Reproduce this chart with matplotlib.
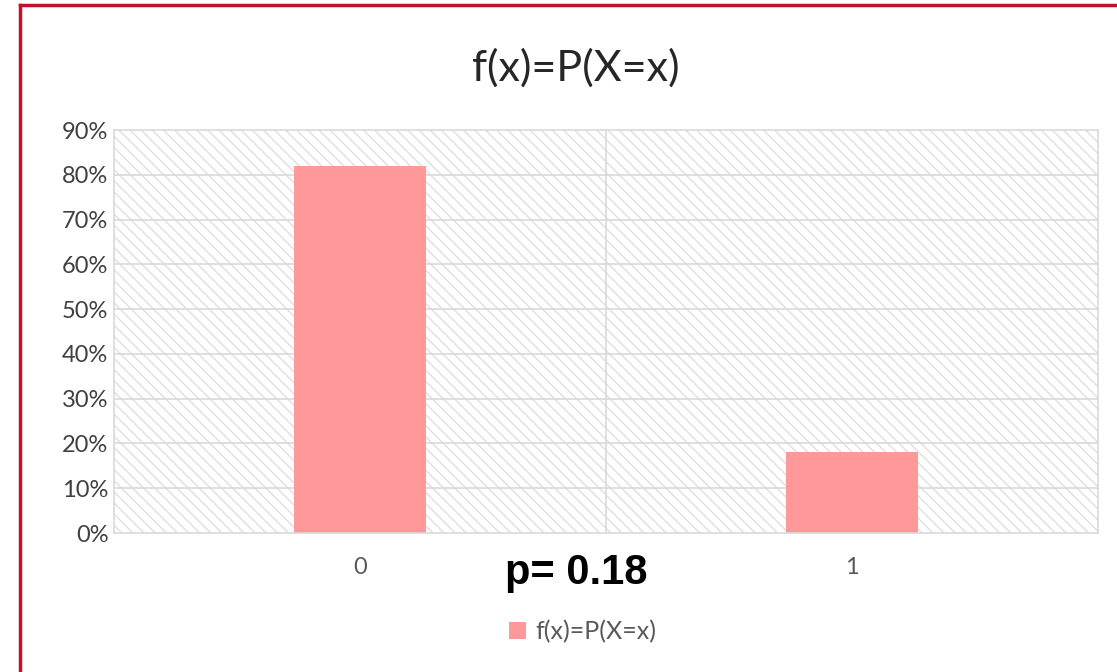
import numpy as np
import matplotlib
matplotlib.use("Agg")
import matplotlib.pyplot as plt
from matplotlib.patches import Rectangle
from matplotlib.lines import Line2D
from matplotlib.ticker import PercentFormatter

# Bernoulli distribution with p = 0.18
categories = ["0", "1"]
probabilities = [0.82, 0.18]
p_value = 0.18
series_name = "f(x)=P(X=x)"

plt.rcParams["font.family"] = ["Lato", "DejaVu Sans"]
plt.rcParams["hatch.color"] = "#dcdcdc"
plt.rcParams["hatch.linewidth"] = 0.9

grid_color = "#d9d9d9"
bar_color = "#ff9999"
label_color = "#595959"

fig = plt.figure(figsize=(11.17, 6.72), dpi=100)
ax = fig.add_axes([0.102, 0.2068, 0.881, 0.5997])

x = np.arange(len(categories))
ax.set_xlim(-0.5, len(categories) - 0.5)
ax.set_ylim(0, 0.9)

# hatched plot area background
ax.add_patch(Rectangle((0, 0), 1, 1, transform=ax.transAxes, facecolor="white",
                       edgecolor="#dcdcdc", hatch="\\\\\\", linewidth=0, zorder=0))

for y in np.arange(0.1, 0.9, 0.1):
    ax.axhline(y, color=grid_color, linewidth=1.2, zorder=1)
ax.axvline(0.5, color=grid_color, linewidth=1.2, zorder=1)

ax.bar(x, probabilities, width=0.27, color=bar_color, zorder=2, label=series_name)

for side in ["top", "bottom", "left", "right"]:
    ax.spines[side].set_color(grid_color)
    ax.spines[side].set_linewidth(1.2)

ax.set_xticks(x)
ax.set_xticklabels(categories)
ax.set_yticks(np.arange(0, 0.91, 0.1))
ax.yaxis.set_major_formatter(PercentFormatter(1.0, decimals=0))
ax.tick_params(axis="y", length=0, labelsize=17, labelcolor="#404040", pad=4)
ax.tick_params(axis="x", length=0, labelsize=17, labelcolor=label_color, pad=17)

fig.text(0.515, 0.899, series_name, ha="center", va="center", fontsize=31, color="#262626")
fig.text(0.516, 0.147, f"p= {p_value}", ha="center", va="center", fontsize=30,
         fontweight="bold", family="Liberation Sans", color="black")

fig.legend(loc="center", bbox_to_anchor=(0.522, 0.06), frameon=False, fontsize=18,
           handlelength=0.65, handleheight=0.65, handletextpad=0.4, labelcolor=label_color)

# red frame around the chart
fig.add_artist(Line2D([0.0175, 0.0175], [0, 0.993], color="#c0102a", linewidth=2.5))
fig.add_artist(Line2D([0.0175, 1.0], [0.993, 0.993], color="#c0102a", linewidth=2.5))

fig.savefig("out.png", dpi=100)
